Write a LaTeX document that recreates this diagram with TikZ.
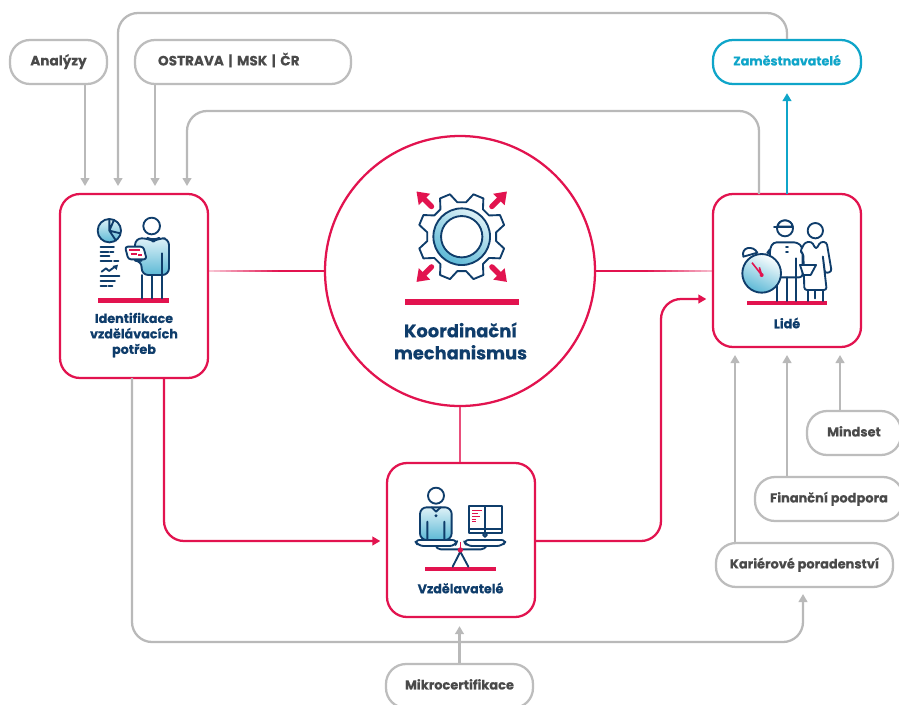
\documentclass[tikz,border=0pt]{standalone}
\usepackage{fontspec}
\setmainfont{Poppins}[BoldFont={Poppins Bold},BoldFeatures={FakeBold=0.3}]
\usetikzlibrary{arrows.meta,calc}
\definecolor{crim}{HTML}{E2134F}
\definecolor{navy}{HTML}{0F3D6B}
\definecolor{sky}{HTML}{5DB9D6}
\definecolor{skyl}{HTML}{DDF1F7}
\definecolor{grayl}{HTML}{B9B9B9}
\definecolor{graypill}{HTML}{BDBDBD}
\definecolor{graytxt}{HTML}{4A4A4A}
\definecolor{teal}{HTML}{0FA5C9}
\def\pxu{0.75pt}
\tikzset{
 x=0.75pt,y=-0.75pt,
 mainbox/.style={draw=crim,line width=1.7pt,rounded corners=15pt,fill=white,inner sep=0pt},
 pill/.style={draw=graypill,line width=1.7pt,rounded corners=15pt,fill=white,inner sep=0pt,minimum height=33pt,text height=7.2pt,text depth=2pt,font=\fontsize{9.7pt}{11pt}\selectfont\bfseries,text=graytxt},
 bluepill/.style={pill,draw=teal,text=teal,font=\fontsize{9.5pt}{11pt}\selectfont\bfseries},
 title/.style={font=\fontsize{9.55pt}{11.6pt}\selectfont\bfseries,text=navy,align=center,inner sep=0pt},
 bigtitle/.style={font=\fontsize{13.4pt}{16.6pt}\selectfont\bfseries,text=navy,align=center,inner sep=0pt},
 grayline/.style={draw=grayl,line width=1.7pt,rounded corners=15pt},
 grayarrow/.style={grayline,-{Triangle[length=6pt,width=6.5pt]}},
 redarrow/.style={draw=crim,line width=1.7pt,rounded corners=15pt,-{Triangle[length=6pt,width=6.5pt]}},
 tealarrow/.style={draw=teal,line width=1.7pt,-{Triangle[length=6pt,width=6.5pt]}},
 ico/.style={draw=navy,line width=1.4pt,line join=round,line cap=round},
 redbar/.style={fill=crim},
 redthin/.style={draw=crim,line width=1.2pt},
 zoomed/.style={x=0.25pt,y=-0.25pt},
}
\begin{document}
\begin{tikzpicture}
\clip (0,0) rectangle (899,704);
\fill[white] (0,0) rectangle (899,704);
% ports
\coordinate (pa) at (85,194);
\coordinate (pb) at (118,194);
\coordinate (pc) at (155,194);
\coordinate (pd) at (187,194);
\coordinate (pe) at (132,378);
\coordinate (pf) at (164,378);
\coordinate (pg) at (759,194);
\coordinate (ph) at (787,194);
\coordinate (pi) at (735,347);
\coordinate (pj) at (787,347);
\coordinate (pk) at (840,347);
\coordinate (pl) at (803,586);
\coordinate (pm) at (713,299);
\coordinate (pn) at (535,541);
\coordinate (po) at (387,541);
\coordinate (top) at (787,13);
\coordinate (mid) at (759,111);
\coordinate (lowy) at (132,642);
\coordinate (riser) at (661,541);
\coordinate (drop) at (164,541);
% connectors under nodes
\foreach \t in {0,0.05,...,0.951}{
  \pgfmathsetmacro{\mixv}{int(min(100,25+130*\t))}
  \draw[draw=crim!\mixv!white,line width=1.7pt] (208+117*\t,271) -- (208+117*\t+6.5,271);
  \pgfmathsetmacro{\mixw}{int(min(100,25+130*(1-\t)))}
  \draw[draw=crim!\mixw!white,line width=1.7pt] (595+118*\t,271) -- (595+118*\t+6.5,271);
}
\node[circle,draw=crim,line width=1.7pt,minimum size=270*\pxu,inner sep=0pt,fill=white] (koord) at (460,271) {};
\node[mainbox,minimum width=148*\pxu,minimum height=184*\pxu] (ident) at (134,286) {};
\node[mainbox,minimum width=148*\pxu,minimum height=153*\pxu] (lide) at (787,270.5) {};
\node[mainbox,minimum width=148*\pxu,minimum height=154*\pxu] (vzdel) at (461,540) {};
\draw[crim!75!white,line width=1.7pt] (koord.south) -- (koord.south |- vzdel.north);
\node[pill,minimum width=97*\pxu,font=\fontsize{10.2pt}{11pt}\selectfont\bfseries] (analyzy) at (58.5,62) {Analýzy};
\node[pill,minimum width=216*\pxu,text width=170*\pxu,align=left,font=\fontsize{10.2pt}{11pt}\selectfont\bfseries] (ostrava) at (243,62) {OSTRAVA | MSK | ČR};
\node[bluepill,minimum width=148*\pxu] (zam) at (787,62) {Zaměstnavatelé};
\node[pill,minimum width=94*\pxu] (mind) at (854,433) {Mindset};
\node[pill,minimum width=148*\pxu] (fin) at (829,499) {Finanční podpora};
\node[pill,minimum width=177*\pxu] (kar) at (804.5,565) {Kariérové poradenství};
\node[pill,minimum width=147*\pxu] (mikro) at (459.5,686) {Mikrocertifikace};
% grey arrows
\draw[grayarrow,shorten >=6pt] (analyzy.south -| pa) -- (pa);
\draw[grayarrow,shorten >=6pt] (ostrava.south -| pc) -- (pc);
\draw[grayarrow,shorten >=6pt] (zam.north) -- (top) -- (top -| pb) -- (pb);
\draw[grayarrow,shorten >=6pt] (pg) -- (mid) -- (mid -| pd) -- (pd);
\draw[tealarrow,shorten >=6pt] (ph) -- (zam.south);
\draw[grayarrow,shorten >=6pt] (pe) -- (lowy) -- (lowy -| pl) -- (pl);
\draw[grayarrow,shorten >=6pt] (mikro.north) -- (mikro.north |- vzdel.south);
\draw[grayarrow,shorten >=6pt] (kar.north -| pi) -- (pi);
\draw[grayarrow,shorten >=6pt] (fin.north -| pj) -- (pj);
\draw[grayarrow,shorten >=6pt] (mind.north -| pk) -- (pk);
\draw[redarrow,shorten >=5pt] (pf) -- (drop) -- (po);
\draw[redarrow,shorten >=5pt] (pn) -- (riser) -- (riser |- pm) -- (pm);
% titles
\node[title] (t1) at (134,335) {Identifikace\\vzdělávacích\\potřeb};
\node[title] (t2) at (787,323) {Lidé};
\node[title] (t3) at (460.5,588) {Vzdělavatelé};
\node[bigtitle] (t4) at (460.5,341) {Koordinační\\mechanismus};
% bars
\fill[redbar] (405,299) rectangle (519,305);
\fill[redbar] (98,298) rectangle (169,303);
\fill[redbar] (747,301) rectangle (827,305);
\fill[redbar] (425,567) rectangle (496,571);
% gear
\begin{scope}[shift={(461.7,236.7)},zoomed]
 \draw[ico,fill=white] (90+7.2:104)
 \foreach \k in {0,...,7}{
   -- ({112.5+45*\k-15.3}:104) -- ({112.5+45*\k-7}:132) -- ({112.5+45*\k+7}:132) -- ({112.5+45*\k+15.3}:104)
 } -- cycle;
 \shade[top color=skyl,bottom color=sky,shading angle=-30] (0,0) circle[radius=85*0.25pt];
 \draw[ico] (0,0) circle[radius=85*0.25pt];
 \draw[ico,fill=white] (0,0) circle[radius=62*0.25pt];
 \foreach \a in {45,135,225,315}{
   \draw[crim,line width=4pt,line cap=round,-{Triangle[length=8.5pt,width=11.5pt]}] (\a:128) -- (\a:192);
 }
\end{scope}
% ident icon
\begin{scope}[shift={(60,190)},zoomed]
 \shade[top color=skyl,bottom color=sky] (148,122) circle[radius=35*0.25pt];
 \draw[ico] (148,122) circle[radius=35*0.25pt];
 \draw[ico] (148,122) -- (148,87) (148,122) -- (181,130) (148,122) -- (168,152) (148,122) -- (162,90);
 \draw[ico] (122,170) -- (162,170) (122,185) -- (145,185) (150,185) -- (160,185) (122,198) -- (148,198) (122,212) -- (155,212) (162,212) -- (175,212) (122,258) -- (178,258) (122,272) -- (165,272) (122,287) -- (140,287) (146,287) -- (157,287);
 \draw[ico] (125,245) -- (138,235) -- (147,243) -- (165,230);
 \fill[navy] (174,224) -- (158,228) -- (170,240) -- cycle;
 \draw[ico,fill=white] (275,108) circle[radius=25*0.25pt];
 \draw[ico,top color=skyl,bottom color=sky,rounded corners=5pt] (245,255) -- (245,212) -- (225,212) -- (225,145) -- (265,145) -- (280,153) -- (295,145) -- (327,145) -- (327,255) -- cycle;
 \draw[ico] (245,255) -- (245,325) (275,255) -- (275,325) (305,255) -- (305,325) (305,190) -- (305,255);
 \draw[ico,fill=white,rounded corners=2pt] (195,170) -- (250,170) -- (260,208) -- (205,208) -- cycle;
 \draw[redthin] (208,180) -- (240,180) (212,192) -- (232,192) (235,195) -- (245,195);
\end{scope}
% people icon
\begin{scope}[shift={(710,190)},zoomed]
 \draw[ico,fill=white] (100,200) .. controls (92,170) and (130,165) .. (142,188) -- cycle;
 \draw[ico,fill=white] (208,200) .. controls (216,170) and (185,165) .. (172,188) -- cycle;
 \draw[ico,fill=white] (225,115) circle[radius=24*0.25pt];
 \draw[ico,fill=white] (203,110) .. controls (205,85) and (245,85) .. (248,110) -- cycle;
 \draw[ico] (192,110) -- (248,110);
 \draw[ico,fill=white,rounded corners=2.5pt] (180,175) -- (190,157) -- (262,157) -- (278,172) -- (278,262) -- (205,262) -- (180,262) -- cycle;
 \draw[ico] (258,205) -- (258,333) (230,262) -- (230,333) (200,262) -- (200,333);
 \draw[ico] (228,172) -- (234,172) (228,185) -- (234,185);
 \draw[ico,fill=white] (316,122) circle[radius=23*0.25pt];
 \draw[ico,fill=white,rounded corners=2pt] (270,185) -- (285,157) -- (305,155) -- (318,178) -- (332,155) -- (350,157) -- (365,245) -- (345,250) -- (338,195) -- (350,300) -- (283,300) -- (280,190) -- cycle;
 \draw[ico,fill=white] (270,225) -- (318,225) -- (302,255) -- (280,255) -- cycle;
 \draw[ico] (293,300) -- (293,333) (315,300) -- (315,325) (340,300) -- (340,333);
 \shade[top color=white,bottom color=sky,shading angle=-25] (155,250) circle[radius=58*0.25pt];
 \draw[ico] (155,250) circle[radius=58*0.25pt];
 \draw[redthin] (155,255) -- (126,218) (155,255) -- (148,232);
 \fill[crim] (155,255) circle[radius=1.5pt];
\end{scope}
% scale icon
\begin{scope}[shift={(385,460)},zoomed]
 \draw[ico,fill=white] (153,107) circle[radius=24*0.25pt];
 \draw[ico,top color=skyl,bottom color=sky,rounded corners=5pt] (105,240) -- (105,142) -- (200,142) -- (200,240) -- cycle;
 \draw[ico] (127,185) -- (127,240) (178,185) -- (178,240) (140,142) -- (153,155) -- (167,142);
 \fill[navy] (153,167) circle[radius=1.2pt];
 \draw[ico,fill=white,rounded corners=3pt] (152,258) -- (155,268) -- (300,268) -- (305,258);
 \draw[ico,fill=white,rounded corners=4pt] (88,240) -- (218,240) -- (210,258) -- (100,258) -- cycle;
 \draw[ico,fill=white,rounded corners=4pt] (235,240) -- (365,240) -- (352,258) -- (245,258) -- cycle;
 \draw[ico,fill=white] (252,138) rectangle (350,220);
 \draw[ico] (300,138) -- (300,220) (252,208) -- (350,208);
 \draw[ico,fill=white] (300,225) circle[radius=1.4pt];
 \draw[redthin] (262,152) -- (290,152) (262,160) -- (280,160) (262,170) -- (285,170) (262,178) -- (272,178) (262,185) -- (272,185);
 \draw[ico] (226,275) -- (203,320) (226,275) -- (250,320);
 \draw[redthin] (226,245) -- (226,272);
 \fill[crim] (226,270) circle[radius=2pt];
\end{scope}
\end{tikzpicture}
\end{document}
